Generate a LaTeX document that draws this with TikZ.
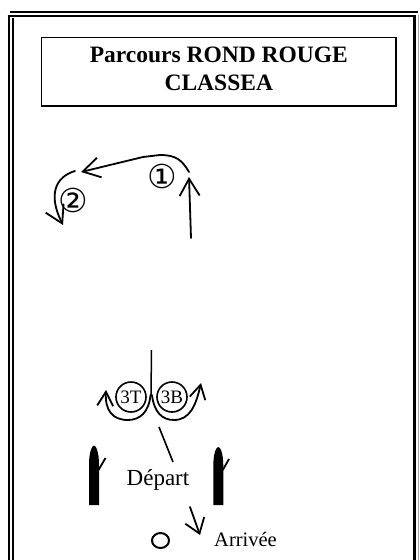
\documentclass[tikz,border=0pt]{standalone}
\usepackage{fontspec}
\setmainfont{Liberation Serif}
\newfontfamily\dejavu{DejaVu Sans}
\usetikzlibrary{arrows.meta}
\begin{document}
\begin{tikzpicture}[x=1pt,y=-1pt,
  frameline/.style={line width=2pt},
  route/.style={line width=1.8pt, line cap=round},
  barbA/.style={-{Straight Barb[length=17pt,width=20pt]}},
  barbB/.style={-{Straight Barb[length=14pt,width=16pt]}},
  ring/.style={draw, circle, line width=1.6pt, minimum size=30pt, inner sep=0pt},
  numlabel/.style={font=\dejavu\fontsize{33}{33}\selectfont, inner sep=0pt},
  post/.style={fill=black},
]
\useasboundingbox (0,0) rectangle (420,560);
% frame
\draw[frameline] (10,11.5) -- (418,11.5);
\draw[frameline] (7.5,15.5) -- (415,15.5);
\draw[frameline] (8.5,15.5) -- (8.5,560);
\draw[line width=1.7pt] (13.3,17.5) -- (13.3,560);
\draw[line width=2.4pt] (414.3,14.5) -- (414.3,560);
\draw[line width=1pt, black!35] (418.3,15) -- (418.3,560);
% title
\draw[line width=1.8pt] (41.5,37.5) rectangle (396,106);
\node[anchor=base, inner sep=0pt, font=\fontsize{23.5}{27.5}\selectfont\bfseries] (t1) at (218.8,62.3) {Parcours ROND ROUGE};
\node[anchor=base, inner sep=0pt, font=\fontsize{23.5}{27.5}\selectfont\bfseries] (t2) at (218.8,90) {CLASSEA};
% upper route
\draw[route, barbA] (191,238) -- (189,177);
\draw[route, barbA] (189,172) .. controls (182,160) and (176,155) .. (160,155) -- (143,157) -- (81,172);
\draw[route, barbA] (75,171) .. controls (55,177) and (48,195) .. (63,225);
\node[numlabel] (n1) at (162.5,176.3) {①};
\node[numlabel] (n2) at (73.5,200) {②};
% 3T / 3B
\draw[line width=1.5pt] (151.5,350) -- (151,395);
\draw[route, barbB] (150.5,395) .. controls (149,412) and (140,420) .. (128,420) .. controls (112,420) and (105,410) .. (106,390);
\draw[route, barbB] (152,395) .. controls (154,412) and (162,420) .. (174,420) .. controls (190,420) and (196,405) .. (201,383);
\node[ring, font=\fontsize{19}{19}\selectfont] (c3T) at (131,397) {3T};
\node[ring, font=\fontsize{19}{19}\selectfont] (c3B) at (172,397) {3B};
\draw[line width=1.6pt] (159,427) -- (173,462);
% depart
\node[anchor=base, inner sep=0pt, font=\fontsize{23}{23}\selectfont] (dep) at (158,485) {Départ};
\fill[post] (89,505) -- (89,465) .. controls (89,452) and (92,445.5) .. (94,445.5) .. controls (96,445.5) and (99,452) .. (99,465) -- (99,505) -- cycle;
\draw[line width=1.8pt] (98.5,470) -- (105.5,458);
\fill[post] (213.3,505) -- (213.3,466) .. controls (213.3,453) and (216.3,447) .. (218.3,447) .. controls (220.3,447) and (223.3,453) .. (223.3,466) -- (223.3,505) -- cycle;
\draw[line width=1.8pt] (222.8,470) -- (229,459);
% arrivee
\draw[route, -{Straight Barb[length=14pt,width=20pt]}] (190,507) -- (200,535);
\draw[line width=2pt] (160.5,540.5) ellipse [x radius=8.5, y radius=7.5];
\node[anchor=base west, inner sep=0pt, font=\fontsize{20.5}{20.5}\selectfont] (arr) at (214,546) {Arrivée};
\end{tikzpicture}
\end{document}
